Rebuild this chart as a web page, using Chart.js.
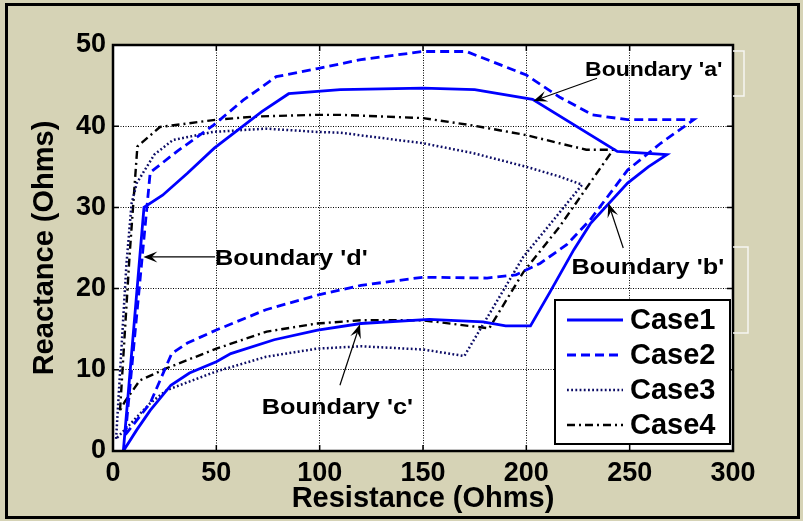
<!DOCTYPE html>
<html>
<head>
<meta charset="utf-8">
<script src="https://cdn.jsdelivr.net/npm/chart.js@4.4.1/dist/chart.umd.min.js"></script>
<style>
  html, body { margin: 0; padding: 0; background: #d6d3b6; }
</style>
</head>
<body>
<canvas id="chartZona" width="803" height="521" style="width:803px;height:521px;"></canvas>
<script>
// Datos (R y X en ohms), cada caso es un contorno cerrado
var labels = ["Case1", "Case2", "Case3", "Case4"];
var xTicks = [0, 50, 100, 150, 200, 250, 300];
var yTicks = [0, 10, 20, 30, 40, 50];

var case1R = [5, 15, 24, 36, 49, 72, 85, 110, 150, 175, 203, 244, 268, 259, 249, 231, 223, 211.5, 202, 190, 179, 153, 120, 99, 78, 57, 50, 37, 28, 18, 11.5, 5];
var case1X = [0, 30, 31.5, 34.2, 37.3, 41.8, 44, 44.5, 44.7, 44.5, 43.3, 36.9, 36.5, 35, 33, 28, 24.8, 19.6, 15.4, 15.4, 15.9, 16.2, 15.7, 14.9, 13.7, 12, 11, 9.6, 8.1, 5, 2.6, 0];

var case2R = [6, 18, 31, 48.5, 63, 79, 99, 120, 150, 171, 200, 216, 232, 249, 281, 265, 249, 231, 219.5, 206.6, 195, 181, 150, 120, 99, 74, 50, 36, 28.4, 18, 6];
var case2X = [2, 34.3, 36.9, 40.1, 43.2, 46.1, 47.1, 48.2, 49.2, 49.2, 46.3, 43.6, 41.4, 40.8, 40.8, 37.9, 34.6, 28.5, 25.4, 23.1, 21.7, 21.3, 21.4, 20.4, 19.2, 17.4, 14.9, 13.3, 12, 5.9, 2];

var case3R = [1.5, 6.5, 9, 11.5, 20, 29, 48.5, 74, 98.6, 110, 150, 174, 200, 216, 227, 213, 198.5, 170, 150, 120, 98.6, 74, 50, 26, 18, 1.5];
var case3X = [1.5, 23, 30.5, 33, 36.5, 38.3, 39.3, 39.7, 39.3, 39.2, 37.9, 36.7, 35, 33.8, 32.8, 28.4, 23.9, 11.7, 12.5, 12.9, 12.6, 11.6, 9.8, 7.5, 5.9, 1.5];

var case4R = [3.4, 8, 11.8, 22.7, 50, 69.5, 98.6, 110, 150, 174, 200, 216, 229, 242, 216, 198.5, 182, 150, 120, 98.6, 74.4, 50, 26, 13, 5.8, 3.4];
var case4X = [5, 24, 37.5, 39.9, 40.8, 41.2, 41.4, 41.4, 41, 40.1, 38.9, 37.9, 37.1, 37.1, 27.6, 22, 15.1, 16.1, 16.1, 15.7, 14.7, 12.6, 10.2, 8.7, 6.1, 5];

// Anotaciones: texto y flecha en coordenadas de datos
var notas = [
    { text: "Boundary 'a'", size: 20, tx: 228.4, ty: 46.2, from: [234.2, 45.9], to: [203.4, 43.1] },
    { text: "Boundary 'd'", size: 22, tx: 49.4, ty: 22.9, from: [49.4, 23.9], to: [14.7, 23.9] },
    { text: "Boundary 'b'", size: 22, tx: 221.9, ty: 21.8, from: [246.9, 25.0], to: [239.7, 30.5] },
    { text: "Boundary 'c'", size: 22, tx: 72.0, ty: 4.6, from: [109.8, 8.1], to: [119.5, 15.6] }
];

var FONT = "'Liberation Sans', Arial, Helvetica, sans-serif";

function puntos(rs, xs) {
    return rs.map(function (r, i) { return { x: r, y: xs[i] }; });
}

function flecha(ctx, x1, y1, x2, y2) {
    var ang = Math.atan2(y2 - y1, x2 - x1);
    var c = Math.cos(ang), s = Math.sin(ang), L = 14, W = 5.5;
    ctx.beginPath();
    ctx.moveTo(x1, y1);
    ctx.lineTo(x2 - 0.6 * L * c, y2 - 0.6 * L * s);
    ctx.stroke();
    ctx.beginPath();
    ctx.moveTo(x2, y2);
    ctx.lineTo(x2 - L * c + W * s, y2 - L * s - W * c);
    ctx.lineTo(x2 - 0.6 * L * c, y2 - 0.6 * L * s);
    ctx.lineTo(x2 - L * c - W * s, y2 - L * s + W * c);
    ctx.closePath();
    ctx.fill();
}

var marcoPlugin = {
    id: "marco",
    beforeDraw: function (chart) {
        var ctx = chart.ctx, a = chart.chartArea;
        ctx.save();
        ctx.fillStyle = "#d6d3b6";
        ctx.fillRect(0, 0, chart.width, chart.height);
        ctx.fillStyle = "#ffffff";
        ctx.fillRect(a.left, a.top, a.right - a.left, a.bottom - a.top);
        ctx.restore();
    },
    afterDraw: function (chart) {
        var ctx = chart.ctx, a = chart.chartArea;
        var sx = chart.scales.x, sy = chart.scales.y;
        ctx.save();

        // marcas interiores de los ejes
        ctx.strokeStyle = "#000";
        ctx.lineWidth = 1.5;
        xTicks.forEach(function (v) {
            var px = sx.getPixelForValue(v);
            ctx.beginPath();
            ctx.moveTo(px, a.top); ctx.lineTo(px, a.top + 6);
            ctx.moveTo(px, a.bottom); ctx.lineTo(px, a.bottom - 6);
            ctx.stroke();
        });
        yTicks.forEach(function (v) {
            var py = sy.getPixelForValue(v);
            ctx.beginPath();
            ctx.moveTo(a.left, py); ctx.lineTo(a.left + 6, py);
            ctx.moveTo(a.right, py); ctx.lineTo(a.right - 6, py);
            ctx.stroke();
        });

        // recuadro del area de trazado
        ctx.lineWidth = 2.5;
        ctx.strokeRect(a.left, a.top, a.right - a.left, a.bottom - a.top);

        // anotaciones
        ctx.fillStyle = "#000";
        ctx.lineWidth = 1.2;
        notas.forEach(function (n) {
            flecha(ctx, sx.getPixelForValue(n.from[0]), sy.getPixelForValue(n.from[1]),
                sx.getPixelForValue(n.to[0]), sy.getPixelForValue(n.to[1]));
            ctx.save();
            ctx.translate(sx.getPixelForValue(n.tx), sy.getPixelForValue(n.ty));
            ctx.scale(1.15, 1);
            ctx.font = "bold " + n.size + "px " + FONT;
            ctx.textBaseline = "alphabetic";
            ctx.textAlign = "left";
            ctx.fillText(n.text, 0, 0);
            ctx.restore();
        });

        // leyenda
        var lx1 = a.right - 178, ly1 = a.bottom - 151, lx2 = a.right - 3, ly2 = a.bottom - 7;
        ctx.fillStyle = "#fff";
        ctx.fillRect(lx1, ly1, lx2 - lx1, ly2 - ly1);
        ctx.lineWidth = 2;
        ctx.strokeStyle = "#000";
        ctx.strokeRect(lx1, ly1, lx2 - lx1, ly2 - ly1);
        chart.data.datasets.forEach(function (ds, i) {
            var y = ly1 + 20 + i * 35;
            ctx.save();
            ctx.strokeStyle = ds.borderColor;
            ctx.lineWidth = ds.borderWidth;
            ctx.setLineDash(ds.borderDash || []);
            ctx.beginPath();
            ctx.moveTo(lx1 + 12, y);
            ctx.lineTo(lx1 + 68, y);
            ctx.stroke();
            ctx.restore();
            ctx.fillStyle = "#000";
            ctx.font = "bold 29px " + FONT;
            ctx.textBaseline = "middle";
            ctx.textAlign = "left";
            ctx.fillText(ds.label, lx1 + 75, y + 1);
        });

        // corchetes blancos a la derecha
        ctx.strokeStyle = "#f6f6f2";
        ctx.lineWidth = 1.5;
        [[a.right, 51, 744, 96], [a.right, 247, 748, 333]].forEach(function (b) {
            ctx.beginPath();
            ctx.moveTo(b[0], b[1]); ctx.lineTo(b[2], b[1]);
            ctx.lineTo(b[2], b[3]); ctx.lineTo(b[0], b[3]);
            ctx.stroke();
        });

        // borde negro exterior
        ctx.strokeStyle = "#000";
        ctx.lineWidth = 3;
        ctx.strokeRect(6.5, 4.5, 792, 513);
        ctx.restore();
    }
};

document.addEventListener("DOMContentLoaded", function () {
    var ctx = document.getElementById("chartZona").getContext("2d");
    new Chart(ctx, {
        type: "line",
        data: {
            datasets: [
                { label: labels[0], data: puntos(case1R, case1X), borderColor: "#0000ff", borderWidth: 2.8, borderDash: [] },
                { label: labels[1], data: puntos(case2R, case2X), borderColor: "#0000ff", borderWidth: 2.8, borderDash: [9, 5] },
                { label: labels[2], data: puntos(case3R, case3X), borderColor: "#0c0c66", borderWidth: 2.5, borderDash: [1.8, 2.4] },
                { label: labels[3], data: puntos(case4R, case4X), borderColor: "#000000", borderWidth: 2.4, borderDash: [8, 4, 2, 4] }
            ]
        },
        options: {
            responsive: false,
            animation: false,
            events: [],
            layout: { padding: { top: 45, right: 70, bottom: 0, left: 0 } },
            elements: {
                point: { radius: 0 },
                line: { tension: 0, fill: false }
            },
            plugins: {
                legend: { display: false },
                tooltip: { enabled: false }
            },
            scales: {
                x: {
                    type: "linear",
                    min: 0, max: 300,
                    afterBuildTicks: function (s) { s.ticks = xTicks.map(function (v) { return { value: v }; }); },
                    afterFit: function (s) { s.height = 70; },
                    grid: { color: "#000", lineWidth: 1, drawTicks: false },
                    border: { display: false, dash: [1, 1.5] },
                    ticks: { color: "#000", padding: 6, maxRotation: 0, font: { family: FONT, size: 27, weight: "bold" } },
                    title: { display: true, text: "Resistance (Ohms)", color: "#000", padding: { top: 0, bottom: 5 }, font: { family: FONT, size: 29, weight: "bold" } }
                },
                y: {
                    type: "linear",
                    min: 0, max: 50,
                    afterBuildTicks: function (s) { s.ticks = yTicks.map(function (v) { return { value: v }; }); },
                    afterFit: function (s) { s.width = 113; },
                    grid: { color: "#000", lineWidth: 1, drawTicks: false },
                    border: { display: false, dash: [1, 1.5] },
                    ticks: { color: "#000", padding: 7, font: { family: FONT, size: 27, weight: "bold" } },
                    title: { display: true, text: "Reactance (Ohms)", color: "#000", padding: { top: 28, bottom: 0 }, font: { family: FONT, size: 29, weight: "bold" } }
                }
            }
        },
        plugins: [marcoPlugin]
    });
});
</script>
</body>
</html>
